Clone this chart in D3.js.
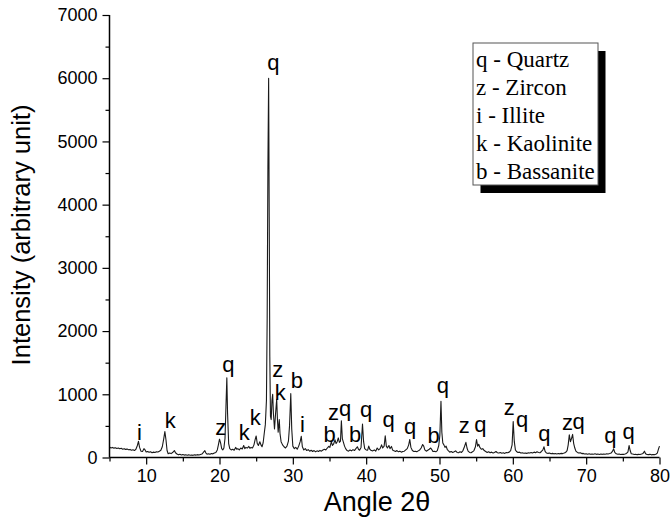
<!DOCTYPE html>
<html>
<head>
<meta charset="utf-8">
<script src="https://cdn.jsdelivr.net/npm/d3@7"></script>
<style>
  html, body { margin: 0; padding: 0; background: #fff; }
  svg { display: block; }
</style>
</head>
<body>
<svg id="chart" width="670" height="526"></svg>
<script>
// X-ray diffraction pattern: [angle 2θ, intensity]
const pattern = [
  [5.0,165],[5.2,150],[5.4,160],[5.6,148],[5.8,155],[6.0,142],[6.2,150],[6.4,138],[6.6,145],[6.8,132],
  [7.0,140],[7.2,128],[7.4,133],[7.6,122],[7.8,128],[8.0,115],[8.2,122],[8.4,110],[8.6,130],[8.8,190],
  [8.95,255],[9.1,160],[9.3,100],[9.5,95],[9.7,140],[9.85,120],[10.0,88],[10.2,95],[10.4,82],[10.6,90],
  [10.8,76],[11.0,85],[11.2,80],[11.4,92],[11.6,88],[11.8,100],[12.0,115],[12.2,170],[12.4,300],[12.55,410],
  [12.7,280],[12.85,110],[13.0,60],[13.2,70],[13.4,62],[13.6,78],[13.85,110],[14.0,75],[14.2,55],[14.4,42],
  [14.6,50],[14.8,40],[15.0,46],[15.2,38],[15.4,44],[15.6,36],[15.8,42],[16.0,35],[16.2,40],[16.4,34],
  [16.6,42],[16.8,38],[17.0,45],[17.2,40],[17.4,48],[17.6,55],[17.8,80],[18.0,108],[18.15,70],[18.3,52],
  [18.5,58],[18.7,50],[18.9,62],[19.1,58],[19.3,72],[19.5,80],[19.7,120],[19.85,200],[20.0,290],[20.15,230],
  [20.3,140],[20.45,120],[20.6,150],[20.75,300],[20.88,800],[21.0,1260],[21.1,700],[21.25,220],[21.4,140],[21.6,120],
  [21.8,130],[22.0,115],[22.2,160],[22.35,130],[22.5,140],[22.7,120],[22.9,150],[23.1,135],[23.3,190],[23.45,140],
  [23.6,160],[23.8,150],[24.0,175],[24.15,145],[24.3,160],[24.5,150],[24.7,200],[24.85,280],[25.0,340],[25.15,220],
  [25.3,190],[25.5,250],[25.65,200],[25.8,170],[25.95,230],[26.1,380],[26.25,520],[26.4,900],[26.5,2200],[26.6,4600],
  [26.7,6000],[26.78,3800],[26.86,1600],[26.95,650],[27.05,600],[27.15,900],[27.25,1000],[27.35,700],[27.5,450],[27.65,700],
  [27.8,920],[27.9,600],[28.0,400],[28.15,600],[28.25,380],[28.4,250],[28.6,200],[28.8,170],[29.0,150],[29.2,180],
  [29.4,260],[29.55,500],[29.72,1010],[29.85,450],[30.0,180],[30.2,140],[30.4,160],[30.6,130],[30.8,180],[31.0,250],
  [31.15,335],[31.3,170],[31.5,120],[31.7,140],[31.9,110],[32.1,125],[32.3,100],[32.5,115],[32.7,95],[32.9,110],
  [33.1,90],[33.3,105],[33.5,95],[33.7,112],[33.9,100],[34.1,118],[34.3,130],[34.5,120],[34.7,150],[34.9,175],
  [35.05,160],[35.25,250],[35.4,190],[35.55,210],[35.75,280],[35.9,220],[36.05,250],[36.2,310],[36.35,240],[36.5,260],
  [36.62,580],[36.75,300],[36.9,240],[37.05,180],[37.2,140],[37.4,110],[37.6,100],[37.8,120],[38.0,105],[38.2,125],
  [38.4,110],[38.6,140],[38.8,170],[38.95,130],[39.1,115],[39.3,160],[39.5,530],[39.65,250],[39.8,140],[40.0,120],
  [40.2,115],[40.35,180],[40.5,130],[40.7,110],[40.9,105],[41.1,120],[41.3,100],[41.5,150],[41.7,120],[41.9,140],
  [42.1,200],[42.25,150],[42.45,180],[42.6,345],[42.75,180],[42.9,150],[43.1,190],[43.25,140],[43.45,175],[43.6,120],
  [43.8,105],[44.0,95],[44.2,110],[44.4,90],[44.6,100],[44.8,85],[45.0,95],[45.2,100],[45.4,120],[45.6,140],
  [45.8,200],[45.95,285],[46.1,160],[46.3,110],[46.5,95],[46.7,100],[46.9,90],[47.1,105],[47.3,120],[47.5,150],
  [47.7,205],[47.85,180],[48.0,120],[48.2,100],[48.4,115],[48.6,130],[48.8,150],[48.95,125],[49.1,95],[49.3,100],
  [49.5,90],[49.7,110],[49.9,190],[50.05,350],[50.2,890],[50.32,400],[50.45,230],[50.6,200],[50.75,160],[50.9,180],
  [51.05,130],[51.2,110],[51.4,85],[51.6,95],[51.8,80],[52.0,90],[52.2,105],[52.4,80],[52.6,75],[52.8,90],
  [53.0,80],[53.2,110],[53.4,170],[53.6,240],[53.75,150],[53.9,100],[54.1,80],[54.3,75],[54.5,90],[54.7,110],
  [54.9,170],[55.05,285],[55.2,180],[55.35,210],[55.5,160],[55.7,130],[55.9,140],[56.1,110],[56.3,95],[56.5,80],
  [56.7,90],[56.9,75],[57.1,85],[57.3,70],[57.5,80],[57.7,95],[57.9,75],[58.1,70],[58.3,80],[58.5,68],
  [58.7,75],[58.9,65],[59.1,80],[59.3,75],[59.5,85],[59.7,110],[59.9,200],[60.05,570],[60.2,250],[60.35,120],
  [60.5,95],[60.7,80],[60.9,85],[61.1,70],[61.3,75],[61.5,68],[61.7,72],[61.9,65],[62.1,75],[62.3,70],
  [62.5,80],[62.7,72],[62.9,85],[63.1,75],[63.3,90],[63.5,80],[63.7,75],[63.9,95],[64.1,120],[64.25,170],
  [64.4,95],[64.6,70],[64.8,65],[65.0,70],[65.2,60],[65.4,65],[65.6,58],[65.8,62],[66.0,55],[66.2,62],
  [66.4,58],[66.6,65],[66.8,62],[67.0,70],[67.2,80],[67.4,110],[67.55,200],[67.7,360],[67.85,250],[68.0,300],
  [68.15,365],[68.3,220],[68.45,150],[68.6,100],[68.8,80],[69.0,70],[69.2,75],[69.4,62],[69.6,65],[69.8,55],
  [70.0,60],[70.2,52],[70.4,58],[70.6,50],[70.8,56],[71.0,52],[71.2,58],[71.4,50],[71.6,55],[71.8,48],
  [72.0,55],[72.2,50],[72.4,56],[72.6,52],[72.8,58],[73.0,55],[73.2,62],[73.4,70],[73.6,100],[73.75,137],
  [73.9,80],[74.1,58],[74.3,52],[74.5,55],[74.7,48],[74.9,52],[75.1,50],[75.3,55],[75.5,65],[75.7,90],
  [75.85,190],[76.0,110],[76.15,60],[76.35,55],[76.55,48],[76.75,52],[76.95,45],[77.15,50],[77.35,48],[77.55,55],
  [77.75,65],[77.95,100],[78.1,60],[78.3,48],[78.5,45],[78.7,50],[78.9,42],[79.1,48],[79.3,45],[79.5,52],
  [79.7,70],[79.85,130],[80.0,180]
];

// Phase labels over the peaks: letter, angle, intensity (label baseline)
const peakLetters = ["i","k","z","q","k","k","q","z","k","b","i","b","z","q","b","q","q","q","b","q","z","q","z","q","q","z","q","q","q"];
const peakAngles  = [9.08,13.27,20.18,21.2,23.36,24.86,27.36,27.96,28.27,30.55,31.32,35.0,35.55,37.14,38.5,40.0,43.05,46.0,49.2,50.47,53.38,55.56,59.5,61.25,64.3,67.47,68.97,73.3,75.8];
const peakLevels  = [277,462,356,1353,277,514,6125,1278,910,1100,408,250,593,657,250,633,475,372,229,1028,383,396,672,475,261,435,443,237,293];

// Legend entries
const legendItems = ["q - Quartz","z - Zircon","i - Illite","k - Kaolinite","b - Bassanite"];

// Axis ticks
const xMajorTicks = [10,20,30,40,50,60,70,80];
const xMinorTicks = [5,15,25,35,45,55,65,75];
const yMajorTicks = [0,1000,2000,3000,4000,5000,6000,7000];
const yMinorTicks = [500,1500,2500,3500,4500,5500,6500];

const svg = d3.select("#chart");
const sans = "'Liberation Sans', Arial, sans-serif";
const serif = "'Liberation Serif', 'Times New Roman', serif";

const x = d3.scaleLinear().domain([5, 80]).range([109.5, 659.5]);
const y = d3.scaleLinear().domain([0, 7000]).range([457.5, 15]);

// spectrum trace
const line = d3.line().x(d => x(d[0])).y(d => y(d[1]));
svg.append("path")
  .datum(pattern)
  .attr("fill", "none")
  .attr("stroke", "#1a1a1a")
  .attr("stroke-width", 1.1)
  .attr("stroke-linejoin", "round")
  .attr("d", line);

// x axis
const gx = svg.append("g").attr("transform", `translate(0,${y(0)})`);
gx.call(d3.axisBottom(x).tickValues(xMajorTicks).tickSize(7).tickPadding(5).tickFormat(d3.format("d")));
gx.append("g").call(d3.axisBottom(x).tickValues(xMinorTicks).tickSize(4).tickFormat(""))
  .select(".domain").remove();

// y axis
const gy = svg.append("g").attr("transform", `translate(${x(5)},0)`);
gy.call(d3.axisLeft(y).tickValues(yMajorTicks).tickSize(7).tickPadding(5).tickFormat(d3.format("d")));
gy.append("g").call(d3.axisLeft(y).tickValues(yMinorTicks).tickSize(4).tickFormat(""))
  .select(".domain").remove();

gx.select(".domain").remove();
gy.select(".domain").remove();
svg.append("line").attr("x1", x(5)).attr("x2", x(80)).attr("y1", y(0)).attr("y2", y(0))
  .attr("stroke", "#000").attr("stroke-width", 1.5);
svg.append("line").attr("x1", x(5)).attr("x2", x(5)).attr("y1", y(0)).attr("y2", y(7000))
  .attr("stroke", "#000").attr("stroke-width", 1.5);

svg.selectAll(".tick line").attr("stroke", "#000").attr("stroke-width", 1.2);
svg.selectAll(".tick text").attr("font-family", sans).attr("font-size", 18).attr("fill", "#000");

// axis titles
svg.append("text")
  .attr("x", 377).attr("y", 511)
  .attr("text-anchor", "middle")
  .attr("font-family", sans).attr("font-size", 27)
  .text("Angle 2θ");
svg.append("text")
  .attr("transform", "translate(30,235) rotate(-90)")
  .attr("text-anchor", "middle")
  .attr("font-family", sans).attr("font-size", 25.5)
  .text("Intensity (arbitrary unit)");

// peak labels
svg.append("g").selectAll("text")
  .data(peakLetters.map((t, i) => ({t, a: peakAngles[i], v: peakLevels[i]})))
  .join("text")
  .attr("x", d => x(d.a))
  .attr("y", d => y(d.v))
  .attr("text-anchor", "middle")
  .attr("font-family", sans).attr("font-size", 22)
  .text(d => d.t);

// legend with drop shadow
const lg = svg.append("g").attr("transform", "translate(473,43)");
const lw = 125, lh = 142;
lg.append("rect").attr("x", 7.5).attr("y", 8).attr("width", lw).attr("height", lh).attr("fill", "#000");
lg.append("rect").attr("x", 0).attr("y", 0).attr("width", lw).attr("height", lh)
  .attr("fill", "#fff").attr("stroke", "#555").attr("stroke-width", 1);
lg.selectAll("text.item")
  .data(legendItems)
  .join("text")
  .attr("class", "item")
  .attr("x", 3)
  .attr("y", (d, i) => 23.5 + i * 28.2)
  .attr("font-family", serif).attr("font-size", 23)
  .text(d => d);
</script>
</body>
</html>
